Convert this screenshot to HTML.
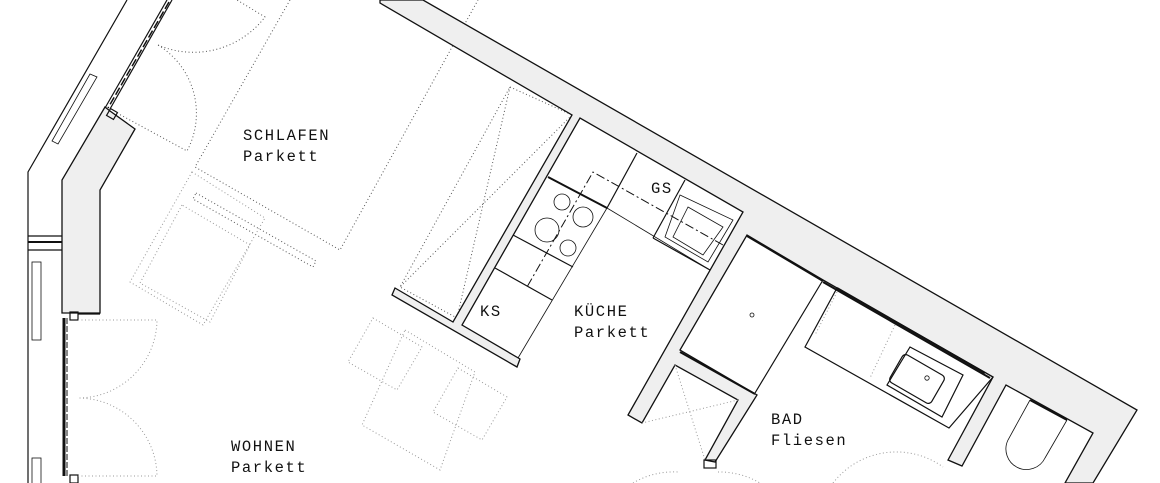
<!DOCTYPE html>
<html><head><meta charset="utf-8"><style>
html,body{margin:0;padding:0;background:#fff;width:1160px;height:483px;overflow:hidden}
svg{display:block}
text{font-family:"Liberation Mono","DejaVu Sans Mono",monospace;font-size:15.5px;fill:#111;letter-spacing:1.6px}
.w{fill:#efefef;stroke:#111;stroke-width:1.3;stroke-linejoin:miter}
.l{fill:none;stroke:#111;stroke-width:1.2}
.t{fill:none;stroke:#111;stroke-width:2}
.th{fill:none;stroke:#111;stroke-width:0.8}
.d{fill:none;stroke:#555;stroke-width:1;stroke-dasharray:1 2.5}
.dl{fill:none;stroke:#999;stroke-width:1;stroke-dasharray:1 2.5}
.dd{fill:none;stroke:#111;stroke-width:1;stroke-dasharray:9 3 2 3}
</style></head><body>
<svg width="1160" height="483" viewBox="0 0 1160 483" xmlns="http://www.w3.org/2000/svg">
<!-- left wall -->
<polyline class="l" points="127,0 28,172 28,483"/>
<polygon class="w" points="105,107 110,111 135,129 100,190 100,313 62,313 62,180"/>
<line class="l" x1="28" y1="236" x2="62" y2="236"/>
<line class="t" x1="28" y1="242" x2="62" y2="242"/>
<line class="l" x1="28" y1="250" x2="62" y2="250"/>
<polygon class="th" points="90,74 97,77 58,144 52,141"/>
<rect class="th" x="32" y="262" width="9" height="78"/>
<rect class="th" x="32" y="458" width="9" height="30"/>
<!-- schlafen window -->
<line class="l" x1="167" y1="0" x2="105" y2="108"/>
<line class="l" x1="172" y1="0" x2="110" y2="109"/>
<line x1="169" y1="2" x2="108" y2="108" stroke="#111" stroke-width="1.5" stroke-dasharray="8 3"/>
<rect class="l" x="108" y="110" width="8" height="8" transform="rotate(30 112 114)" fill="#fff"/>
<!-- living window -->
<line x1="64" y1="318" x2="64" y2="476" stroke="#111" stroke-width="3"/>
<line x1="67" y1="318" x2="67" y2="476" stroke="#111" stroke-width="1" stroke-dasharray="6 2"/>
<rect class="l" x="70" y="312" width="8" height="8" fill="#fff"/>
<rect class="l" x="70" y="475" width="8" height="8" fill="#fff"/>
<line class="l" x1="78" y1="314" x2="100" y2="314"/>
<!-- doors -->
<path class="dl" d="M78,320 L157,320 A79,79 0 0 1 78,398"/>
<path class="dl" d="M78,476 L157,476 A79,79 0 0 0 78,398"/>
<path class="d" d="M117,113 L187,151 A80,80 0 0 0 158,45"/>
<path class="d" d="M158,45 A90,90 0 0 0 265,17 L237,0"/>
<!-- bed -->
<polyline class="d" points="290,0 195,167 340,250 478,0"/>
<polygon class="d" points="196,193 316,261 313,267 193,199"/>
<polygon class="dl" points="192,172 130,282 203,325 265,218"/>
<polygon class="dl" points="182,205 140,283 210,322 250,245"/>
<!-- wardrobe -->
<polygon class="d" points="510,87 572,115 457,318 400,287"/>
<line class="d" x1="510" y1="87" x2="457" y2="318"/>
<line class="d" x1="572" y1="115" x2="400" y2="287"/>
<!-- dining -->
<polygon class="dl" points="373,318 422,347 397,390 348,362"/>
<polygon class="dl" points="458,368 507,397 482,440 433,412"/>
<polygon class="dl" points="405,330 475,372 440,470 362,425"/>
<!-- big gray wall -->
<polygon class="w" points="423,0 1137,410 1093,483 1065,483 1093,433 1006,385 962,466 948,460 993,377 823,280 747,235 680,350 757,395 715,462 705,460 738,400 675,365 642,423 628,415 743,212 580,118 462,325 520,359 517,367 392,295 395,288 453,322 572,115 380,3 380,0"/>
<line class="t" x1="823" y1="282" x2="990" y2="378"/>
<line class="t" x1="747" y1="236" x2="823" y2="281"/>
<!-- kitchen -->
<line class="th" x1="607" y1="208" x2="710" y2="270"/>
<line class="t" x1="548" y1="177" x2="607" y2="208"/>
<line class="l" x1="637" y1="153" x2="607" y2="208"/>
<line class="l" x1="685" y1="180" x2="653" y2="238"/>
<line class="l" x1="653" y1="238" x2="710" y2="270"/>
<line class="th" x1="607" y1="208" x2="518" y2="358"/>
<line class="l" x1="513" y1="235" x2="573" y2="267"/>
<line class="l" x1="495" y1="268" x2="552" y2="300"/>
<polyline class="dd" points="723,245 593,172 527,287"/>
<circle class="th" cx="562" cy="202" r="8"/>
<circle class="th" cx="583" cy="217" r="10"/>
<circle class="th" cx="547" cy="230" r="12"/>
<circle class="th" cx="568" cy="248" r="8"/>
<polygon class="th" points="680,195 733,220 708,262 665,237"/>
<polygon class="th" points="688,207 723,227 703,255 673,237"/>
<!-- bath -->
<polyline class="l" points="823,280 755,393"/>
<line class="t" x1="680" y1="352" x2="755" y2="394"/>
<circle class="th" cx="752" cy="315" r="2"/>
<line class="dl" x1="675" y1="365" x2="705" y2="460"/>
<line class="dl" x1="738" y1="400" x2="642" y2="423"/>
<rect class="l" x="704" y="460" width="12" height="8" fill="#fff"/>
<polygon class="l" points="837,288 993,377 949,428 805,347" fill="#fff"/>
<line class="t" x1="837" y1="288" x2="985" y2="373"/>
<line class="dl" x1="837" y1="292" x2="815" y2="335"/>
<line class="dl" x1="895" y1="325" x2="870" y2="378"/>
<polygon class="l" points="910,347 963,375 942,417 887,385" fill="#fff"/>
<rect class="l" x="893" y="363" width="48" height="32" rx="4" transform="rotate(30 917 379)"/>
<circle class="th" cx="927" cy="378" r="2.2"/>
<path class="th" d="M1030,400 L1008,440 A20,20 0 0 0 1045,458 L1067,420"/>
<line class="t" x1="1030" y1="400" x2="1067" y2="420"/>
<path class="dl" d="M833,483 A80,80 0 0 1 943,467"/>
<path class="dl" d="M633,483 A80,80 0 0 1 678,472"/>
<path class="dl" d="M718,472 A80,80 0 0 1 760,483"/>
<!-- labels -->
<text x="243" y="140">SCHLAFEN</text>
<text x="243" y="161">Parkett</text>
<text x="231" y="451">WOHNEN</text>
<text x="231" y="472">Parkett</text>
<text x="480" y="316">KS</text>
<text x="574" y="316">KÜCHE</text>
<text x="574" y="337">Parkett</text>
<text x="651" y="193">GS</text>
<text x="771" y="424">BAD</text>
<text x="771" y="445">Fliesen</text>
</svg>
</body></html>
